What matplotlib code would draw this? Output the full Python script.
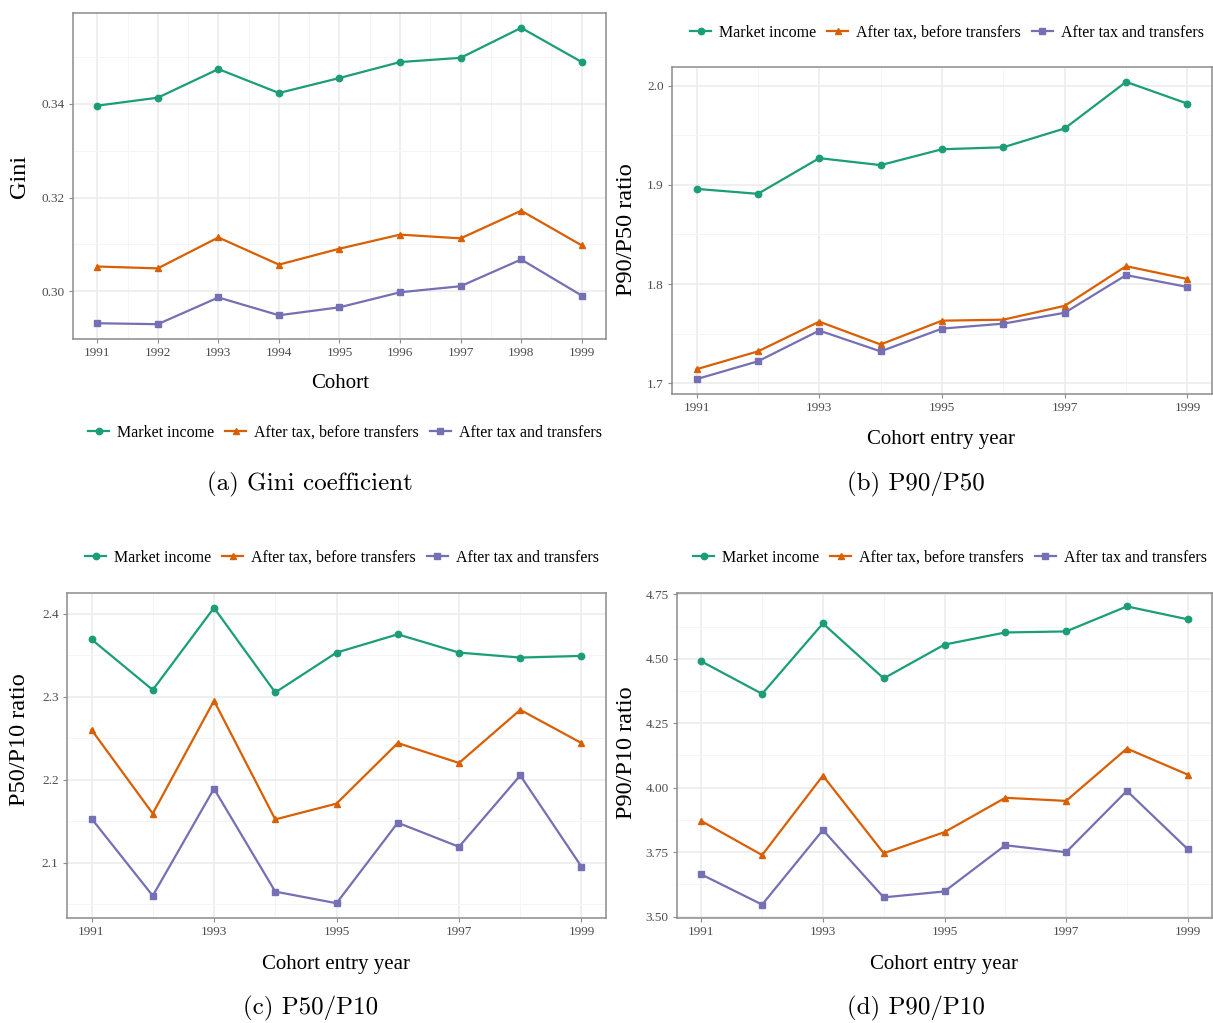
import matplotlib
matplotlib.use("Agg")
import matplotlib.pyplot as plt
from matplotlib.lines import Line2D
from matplotlib.ticker import MultipleLocator, FixedLocator, FormatStrFormatter

W, H = 1213, 1023

years = [1991, 1992, 1993, 1994, 1995, 1996, 1997, 1998, 1999]
series_names = ["Market income", "After tax, before transfers", "After tax and transfers"]
colors = ["#1B9E77", "#D95F02", "#7570B3"]
markers = ["o", "^", "s"]

# Gini coefficient
gini_market = [0.3396, 0.3413, 0.3474, 0.3423, 0.3455, 0.3489, 0.3498, 0.3562, 0.3489]
gini_aftertax = [0.3053, 0.3049, 0.3115, 0.3057, 0.3091, 0.3121, 0.3113, 0.3172, 0.3098]
gini_transfers = [0.2932, 0.2930, 0.2987, 0.2949, 0.2966, 0.2998, 0.3011, 0.3068, 0.2991]

# P90/P50
p9050_market = [1.896, 1.891, 1.927, 1.920, 1.936, 1.938, 1.957, 2.004, 1.982]
p9050_aftertax = [1.714, 1.732, 1.762, 1.739, 1.763, 1.764, 1.778, 1.818, 1.805]
p9050_transfers = [1.704, 1.722, 1.753, 1.732, 1.755, 1.760, 1.771, 1.809, 1.797]

# P50/P10
p5010_market = [2.369, 2.308, 2.407, 2.305, 2.353, 2.375, 2.353, 2.347, 2.349]
p5010_aftertax = [2.260, 2.159, 2.295, 2.152, 2.171, 2.244, 2.220, 2.284, 2.244]
p5010_transfers = [2.153, 2.060, 2.189, 2.065, 2.051, 2.148, 2.119, 2.205, 2.095]

# P90/P10
p9010_market = [4.490, 4.364, 4.637, 4.424, 4.555, 4.602, 4.606, 4.703, 4.653]
p9010_aftertax = [3.871, 3.739, 4.047, 3.746, 3.828, 3.961, 3.949, 4.152, 4.051]
p9010_transfers = [3.664, 3.547, 3.836, 3.575, 3.598, 3.777, 3.750, 3.988, 3.762]

plt.rcParams["font.family"] = "Liberation Serif"

fig = plt.figure(figsize=(W / 100, H / 100), dpi=100)


def add_ax(left, right, top, bottom):
    return fig.add_axes([left / W, 1 - bottom / H, (right - left) / W, (bottom - top) / H])


def fx(x):
    return x / W


def fy(y):
    return 1 - y / H


def draw_panel(ax, data, every_year, ymajor, yfmt, ylim=None):
    for vals, c, m in zip(data, colors, markers):
        ax.plot(years, vals, color=c, marker=m, markersize=4.6, linewidth=1.6, zorder=3)
    if every_year:
        ax.xaxis.set_major_locator(FixedLocator(years))
        ax.xaxis.set_minor_locator(FixedLocator([y + 0.5 for y in years[:-1]]))
    else:
        ax.xaxis.set_major_locator(FixedLocator(years[::2]))
        ax.xaxis.set_minor_locator(FixedLocator(years[1::2]))
    ax.yaxis.set_major_locator(MultipleLocator(ymajor))
    ax.yaxis.set_minor_locator(MultipleLocator(ymajor / 2))
    ax.yaxis.set_major_formatter(FormatStrFormatter(yfmt))
    if ylim is not None:
        ax.set_ylim(*ylim)
    ax.grid(which="major", color="#EBEBEB", linewidth=1.1, zorder=0)
    ax.grid(which="minor", color="#F4F4F4", linewidth=0.6, zorder=0)
    ax.set_axisbelow(True)
    for s in ax.spines.values():
        s.set_color("#8C8C8C")
        s.set_linewidth(1.1)
    ax.tick_params(which="major", length=3, color="#8C8C8C", labelsize=9.5,
                   labelcolor="#4D4D4D", pad=3)
    ax.tick_params(which="minor", length=0)


def add_legend(cx, cy):
    handles = [Line2D([], [], color=c, marker=m, markersize=4.6, linewidth=1.6)
               for c, m in zip(colors, markers)]
    fig.legend(handles, series_names, loc="center", bbox_to_anchor=(fx(cx), fy(cy)),
               ncol=3, frameon=False, fontsize=11.5, handlelength=1.3,
               handletextpad=0.5, columnspacing=0.7, borderaxespad=0)


# (a) Gini
ax_a = add_ax(73, 606, 13, 339)
draw_panel(ax_a, [gini_market, gini_aftertax, gini_transfers], True, 0.02, "%.2f")
add_legend(345, 433)
fig.text(fx(340), fy(384), "Cohort", ha="center", va="center", fontsize=15)
fig.text(fx(20), fy(176), "Gini", ha="center", va="center", rotation=90, fontsize=17.5)
fig.text(fx(310), fy(484), "(a) Gini coefficient", ha="center", va="center",
         fontsize=18, family="cmr10")

# (b) P90/P50
ax_b = add_ax(672, 1212, 67, 394)
draw_panel(ax_b, [p9050_market, p9050_aftertax, p9050_transfers], False, 0.1, "%.1f")
add_legend(947, 33)
fig.text(fx(941), fy(439), "Cohort entry year", ha="center", va="center", fontsize=15)
fig.text(fx(626), fy(230), "P90/P50 ratio", ha="center", va="center", rotation=90, fontsize=17.5)
fig.text(fx(916), fy(484), "(b) P90/P50", ha="center", va="center",
         fontsize=18, family="cmr10")

# (c) P50/P10
ax_c = add_ax(67, 606, 593, 918)
draw_panel(ax_c, [p5010_market, p5010_aftertax, p5010_transfers], False, 0.1, "%.1f")
add_legend(342, 558)
fig.text(fx(336), fy(964), "Cohort entry year", ha="center", va="center", fontsize=15)
fig.text(fx(20), fy(740), "P50/P10 ratio", ha="center", va="center", rotation=90, fontsize=17.5)
fig.text(fx(311), fy(1008), "(c) P50/P10", ha="center", va="center",
         fontsize=18, family="cmr10")

# (d) P90/P10
ax_d = add_ax(677, 1212, 593, 918)
draw_panel(ax_d, [p9010_market, p9010_aftertax, p9010_transfers], False, 0.25, "%.2f",
           ylim=(3.495, 4.755))
add_legend(950, 558)
fig.text(fx(944), fy(964), "Cohort entry year", ha="center", va="center", fontsize=15)
fig.text(fx(626), fy(753), "P90/P10 ratio", ha="center", va="center", rotation=90, fontsize=17.5)
fig.text(fx(916), fy(1008), "(d) P90/P10", ha="center", va="center",
         fontsize=18, family="cmr10")

fig.savefig("out.png", dpi=100)
